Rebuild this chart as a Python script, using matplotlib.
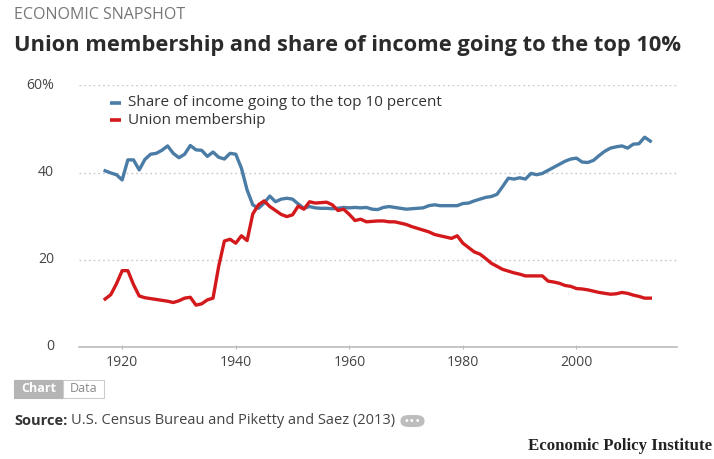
import matplotlib
matplotlib.use("Agg")
import matplotlib.pyplot as plt
from matplotlib.patches import FancyBboxPatch, Rectangle
from matplotlib.ticker import FixedLocator, FuncFormatter

plt.rcParams['font.family'] = ['Open Sans', 'DejaVu Sans']

BLUE = '#4a7ca6'
RED = '#d4191c'

years = list(range(1917, 2014))

# share of income going to the top 10 percent (%)
top10_share = [
    40.4, 39.9, 39.5, 38.3, 42.9, 42.9, 40.6, 43.0, 44.2, 44.4,   # 1917-1926
    45.1, 46.1, 44.4, 43.4, 44.2, 46.2, 45.2, 45.1, 43.7, 44.7,   # 1927-1936
    43.5, 43.1, 44.4, 44.2, 41.0, 36.0, 32.6, 31.8, 33.0, 34.6,   # 1937-1946
    33.3, 33.9, 34.1, 33.9, 32.8, 31.8, 32.2, 31.9, 31.8, 31.8,   # 1947-1956
    31.7, 31.8, 32.0, 31.9, 32.0, 31.9, 32.0, 31.6, 31.5, 32.0,   # 1957-1966
    32.2, 32.0, 31.8, 31.6, 31.7, 31.8, 31.9, 32.4, 32.6, 32.4,   # 1967-1976
    32.4, 32.4, 32.4, 32.9, 33.0, 33.5, 33.9, 34.3, 34.5, 35.0,   # 1977-1986
    36.8, 38.7, 38.5, 38.8, 38.5, 39.8, 39.5, 39.8, 40.5, 41.2,   # 1987-1996
    41.9, 42.6, 43.1, 43.3, 42.4, 42.3, 42.8, 43.9, 44.9, 45.6,   # 1997-2006
    45.9, 46.1, 45.6, 46.5, 46.6, 48.1, 47.2,                     # 2007-2013
]

# union membership (%)
union_membership = [
    11.0, 12.0, 14.5, 17.5, 17.5, 14.3, 11.7, 11.3, 11.1, 10.9,   # 1917-1926
    10.7, 10.5, 10.2, 10.6, 11.2, 11.4, 9.6, 9.9, 10.8, 11.2,     # 1927-1936
    18.5, 24.3, 24.7, 23.8, 25.5, 24.4, 30.5, 32.6, 33.5, 32.2,   # 1937-1946
    31.3, 30.4, 29.9, 30.3, 32.3, 31.6, 33.3, 33.0, 33.1, 33.2,   # 1947-1956
    32.6, 31.3, 31.6, 30.4, 29.0, 29.3, 28.7, 28.8, 28.9, 28.9,   # 1957-1966
    28.7, 28.7, 28.4, 28.1, 27.6, 27.2, 26.8, 26.4, 25.8, 25.5,   # 1967-1976
    25.2, 24.9, 25.5, 23.8, 22.8, 21.8, 21.3, 20.3, 19.2, 18.5,   # 1977-1986
    17.8, 17.4, 17.0, 16.7, 16.3, 16.3, 16.3, 16.3, 15.1, 14.9,   # 1987-1996
    14.6, 14.1, 13.9, 13.4, 13.3, 13.1, 12.8, 12.5, 12.3, 12.1,   # 1997-2006
    12.2, 12.5, 12.3, 11.9, 11.6, 11.2, 11.2,                     # 2007-2013
]

x_ticks = [1920, 1940, 1960, 1980, 2000]
y_ticks = [0, 20, 40, 60]

legend_labels = ['Share of income going to the top 10 percent', 'Union membership']

W, H = 714, 459
fig = plt.figure(figsize=(W / 100, H / 100), dpi=100)
fig.patch.set_facecolor('white')
fig.canvas.draw()
renderer = fig.canvas.get_renderer()


def px(x, y):
    return x / W, 1 - y / H


def fit_width(txt, width_px):
    # scale a text's font size so it spans the given pixel width
    bb = txt.get_window_extent(renderer)
    txt.set_fontsize(txt.get_fontsize() * width_px / bb.width)
    return txt.get_fontsize()


ax = fig.add_axes([79 / W, 1 - 347 / H, (677 - 79) / W, (347 - 85.3) / H])
ax.plot(years, top10_share, color=BLUE, lw=2.4, solid_joinstyle='round', zorder=3)
ax.plot(years, union_membership, color=RED, lw=2.4, solid_joinstyle='round', zorder=4)

ax.set_xlim(1912.4, 2017.7)
ax.set_ylim(0, 60)
for s in ax.spines.values():
    s.set_visible(False)

for yv in y_ticks[1:]:
    ax.axhline(yv, color='#c8c8c8', lw=1.0, ls=(0, (1.2, 2.2)), zorder=1)
ax.axhline(0, color='#bbbbbb', lw=1.2, zorder=2, clip_on=False)

# tick label size picked so "1920" is about 32 px wide
probe = fig.text(0, 0, '1920', fontsize=9)
tick_fs = fit_width(probe, 32)
probe.remove()

ax.xaxis.set_major_locator(FixedLocator(x_ticks))
ax.yaxis.set_major_locator(FixedLocator(y_ticks))
ax.yaxis.set_major_formatter(FuncFormatter(lambda v, p: '60%' if v == 60 else f'{int(v)}'))
ax.tick_params(axis='x', length=3, width=0.8, color='#bbbbbb', direction='inout',
               labelsize=tick_fs, labelcolor='#444444', pad=4)
ax.tick_params(axis='y', length=0, labelsize=tick_fs, labelcolor='#444444', pad=18)
for lab in ax.get_yticklabels():
    lab.set_verticalalignment('center')

# legend drawn by hand, stacked in the upper left
leg_texts = []
for i, (lab, col) in enumerate(zip(legend_labels, [BLUE, RED])):
    yy = 103 + i * 17
    fig.add_artist(plt.Line2D([px(110, 0)[0], px(121, 0)[0]], [px(0, yy)[1]] * 2,
                              color=col, lw=2.6, solid_capstyle='butt'))
    leg_texts.append(fig.text(*px(128, yy), lab, fontsize=9.5, color='#333333',
                              va='center', ha='left'))
leg_fs = fit_width(leg_texts[0], 315)
leg_texts[1].set_fontsize(leg_fs)

# header
kicker = fig.text(*px(14, 15), 'ECONOMIC SNAPSHOT', fontsize=9, color='#777777',
                  va='center', ha='left')
fit_width(kicker, 172)
title = fig.text(*px(14, 46), 'Union membership and share of income going to the top 10%',
                 fontsize=14, fontweight='bold', color='#2b2b2b', va='center', ha='left')
fit_width(title, 670)

# Chart / Data toggle
fig.add_artist(Rectangle(px(14, 398), 49 / W, 18 / H, facecolor='#b5b5b5',
                         edgecolor='#b5b5b5', lw=0.8))
fig.add_artist(Rectangle(px(63, 398), 41 / W, 18 / H, facecolor='white',
                         edgecolor='#cccccc', lw=0.8))
fig.text(*px(38.5, 389), 'Chart', fontsize=9, color='white', fontweight='bold',
         ha='center', va='center')
fig.text(*px(83.5, 389), 'Data', fontsize=9, color='#888888', ha='center', va='center')

# source line: bold lead-in, plain text, then the grey "more" pill
src_bold = fig.text(*px(14, 421), 'Source:', fontsize=9.5, fontweight='bold',
                    color='#333333', va='center', ha='left')
src_rest = fig.text(0, px(0, 421)[1], 'U.S. Census Bureau and Piketty and Saez (2013)',
                    fontsize=9.5, color='#444444', va='center', ha='left')
for _ in range(3):
    bb = src_bold.get_window_extent(renderer)
    src_rest.set_x((bb.x1 + 4) / W)
    bb2 = src_rest.get_window_extent(renderer)
    scale = 379 / (bb2.x1 - bb.x0)
    src_bold.set_fontsize(src_bold.get_fontsize() * scale)
    src_rest.set_fontsize(src_rest.get_fontsize() * scale)
bb = src_bold.get_window_extent(renderer)
src_rest.set_x((bb.x1 + 4) / W)
bb2 = src_rest.get_window_extent(renderer)

pill_x = bb2.x1 + 5
fig.add_artist(FancyBboxPatch((pill_x / W, px(0, 427)[1]), 24 / W, 12 / H,
                              boxstyle='round,pad=0,rounding_size=0.012',
                              facecolor='#bdbdbd', edgecolor='none'))
fig.text((pill_x + 12) / W, px(0, 421)[1], '•••', fontsize=7, color='white',
         ha='center', va='center', family='DejaVu Sans')

epi = fig.text(*px(712, 446), 'Economic Policy Institute', fontsize=10.5, fontweight='bold',
               family='Liberation Serif', color='#222222', ha='right', va='center')
fit_width(epi, 184)

fig.savefig('out.png', dpi=100, facecolor='white')
